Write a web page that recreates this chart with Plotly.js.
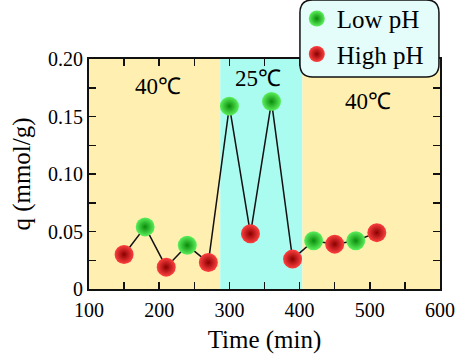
<!DOCTYPE html>
<html>
<head>
<meta charset="utf-8">
<script src="https://cdn.plot.ly/plotly-3.0.1.min.js"></script>
<style>html,body{margin:0;padding:0;background:#fff;}#chart{width:455px;height:356px;}</style>
</head>
<body>
<div id="chart"></div>
<script>
// Data
const timeMin = [150, 180, 210, 240, 270, 300, 330, 360, 390, 420, 450, 480, 510];
const qValues = [0.030, 0.054, 0.019, 0.038, 0.023, 0.159, 0.048, 0.163, 0.026, 0.042, 0.039, 0.042, 0.049];
const phState = ['High', 'Low', 'High', 'Low', 'High', 'Low', 'High', 'Low', 'High', 'Low', 'High', 'Low', 'High'];
const seriesNames = ['Low pH', 'High pH'];
const tempZones = [
  {label: '40℃', start: 100, end: 287, color: '#fff0b2'},
  {label: '25℃', start: 287, end: 404, color: '#aafbf0'},
  {label: '40℃', start: 404, end: 600, color: '#fff0b2'}
];
const labelPos = [[198, 0.176], [341, 0.183], [497, 0.163]];
const yTickVals = [0, 0.025, 0.05, 0.075, 0.10, 0.125, 0.15, 0.175, 0.20];
const yTickText = ['0', '', '0.05', '', '0.10', '', '0.15', '', '0.20'];
const xTickVals = [100, 150, 200, 250, 300, 350, 400, 450, 500, 550, 600];
const xTickText = ['100', '', '200', '', '300', '', '400', '', '500', '', '600'];

function pick(state) {
  const x = [], y = [];
  timeMin.forEach((t, i) => { if (phState[i] === state) { x.push(t); y.push(qValues[i]); } });
  return {x, y};
}
const low = pick('Low'), high = pick('High');

const serif = 'Liberation Serif';
const traces = [
  {x: timeMin, y: qValues, mode: 'lines', line: {color: '#111', width: 1.5}, showlegend: false, hoverinfo: 'skip'},
  {x: low.x, y: low.y, mode: 'markers', name: seriesNames[0], legendgroup: 'a',
   marker: {size: 19, color: '#5cf05c', gradient: {type: 'radial', color: '#0a8a0a'}, line: {width: 0}}},
  {x: high.x, y: high.y, mode: 'markers', name: seriesNames[1], legendgroup: 'b',
   marker: {size: 19, color: '#ff4040', gradient: {type: 'radial', color: '#8a0000'}, line: {width: 0}}}
];

// Rounded legend box in paper coords
const L = 0.601, R = 0.997, T = 1.257, B = 0.922, rx = 0.036, ry = 0.055;
const boxPath = `M ${L+rx},${T} L ${R-rx},${T} Q ${R},${T} ${R},${T-ry} L ${R},${B+ry} Q ${R},${B} ${R-rx},${B} L ${L+rx},${B} Q ${L},${B} ${L},${B+ry} L ${L},${T-ry} Q ${L},${T} ${L+rx},${T} Z`;

const shapes = tempZones.map(z => ({type: 'rect', xref: 'x', yref: 'paper', x0: z.start, x1: z.end, y0: 0, y1: 1,
  fillcolor: z.color, line: {width: 0}, layer: 'below'}));
shapes.push({type: 'path', xref: 'paper', yref: 'paper', path: boxPath, fillcolor: '#e4fdfb',
  line: {color: '#111', width: 1.5}, layer: 'above'});

const annotations = tempZones.map((z, i) => ({x: labelPos[i][0], y: labelPos[i][1], xref: 'x', yref: 'y',
  text: z.label, showarrow: false, font: {family: serif, size: 23, color: '#000'}}));

const axisCommon = {showgrid: false, zeroline: false, showline: true, linecolor: '#111', linewidth: 2,
  mirror: 'ticks', ticks: 'inside', ticklen: 7, tickwidth: 1.5, tickcolor: '#111',
  tickfont: {family: serif, size: 20, color: '#000'}, tickmode: 'array', automargin: false};

const layout = {
  width: 455, height: 356,
  margin: {l: 89, r: 15, t: 59, b: 67, autoexpand: false},
  paper_bgcolor: '#fff', plot_bgcolor: '#fff',
  xaxis: Object.assign({}, axisCommon, {range: [100, 600], tickvals: xTickVals, ticktext: xTickText,
    ticklabelstandoff: 2,
    title: {text: 'Time (min)', font: {family: serif, size: 25, color: '#000'}, standoff: 10}}),
  yaxis: Object.assign({}, axisCommon, {range: [0, 0.20], tickvals: yTickVals, ticktext: yTickText,
    title: {text: 'q (mmol/g)', font: {family: serif, size: 25, color: '#000'}, standoff: 10}}),
  shapes, annotations,
  showlegend: true,
  legend: {x: 0.592, y: 1.275, xanchor: 'left', yanchor: 'top', bgcolor: 'rgba(0,0,0,0)', borderwidth: 0,
    font: {family: serif, size: 25, color: '#000'}, tracegroupgap: 0, itemsizing: 'trace', itemwidth: 30}
};

Plotly.newPlot('chart', traces, layout, {displayModeBar: false, staticPlot: true});
</script>
</body>
</html>
